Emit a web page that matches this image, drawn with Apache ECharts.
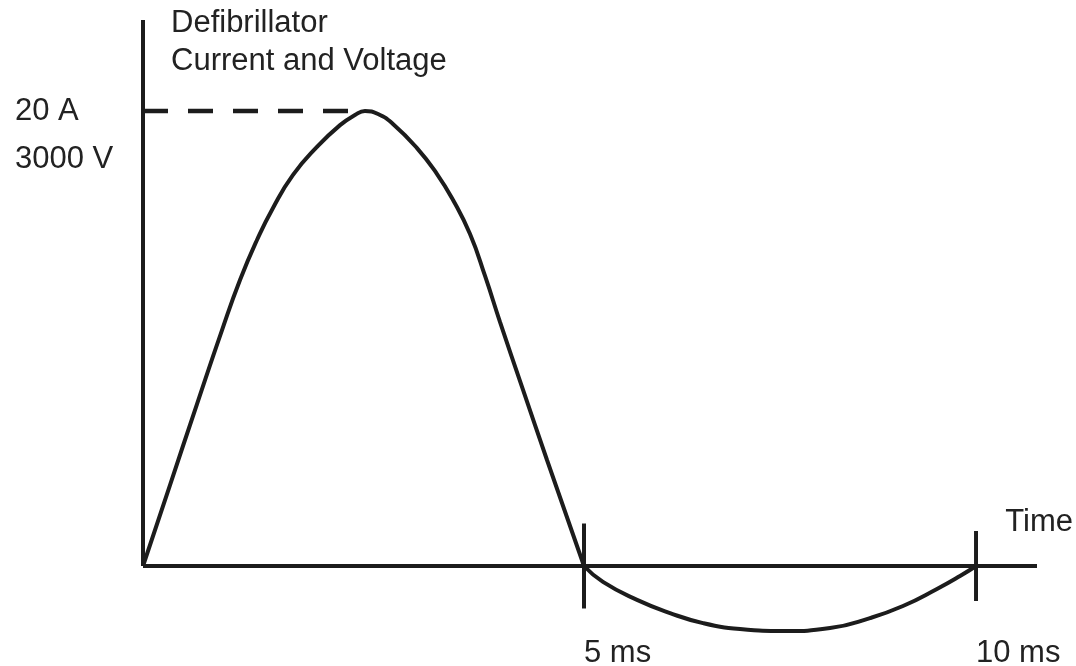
<!DOCTYPE html>
<html>
<head>
<meta charset="utf-8">
<title>Defibrillator Current and Voltage</title>
<script src="https://cdn.jsdelivr.net/npm/echarts@6/dist/echarts.min.js"></script>
<style>
  html, body { margin: 0; padding: 0; background: #ffffff; }
  #chart { width: 1076px; height: 666px; }
</style>
</head>
<body>
<div id="chart"></div>
<script>
// Schematic time position (0..100 along the time axis) and current in amperes.
// First (positive) lobe of the pulse
const pulseX = [0, 3.02, 6.04, 8.84, 10.85, 12.75, 14.54, 16.78, 19.46, 22.04, 23.71, 24.83,
  26.29, 27.96, 30.65, 32.89, 34.68, 36.58, 38.26, 39.93, 42.51, 45.19, 49.33];
const pulseY = [0, 3.56, 7.12, 10.37, 12.57, 14.33, 15.74, 17.19, 18.42, 19.38, 19.82, 20.0,
  19.87, 19.43, 18.37, 17.23, 16.09, 14.59, 12.75, 10.73, 7.74, 4.66, 0];
// Second (negative) lobe
const reverseX = [49.33, 51.45, 55.26, 58.95, 62.64, 66.78, 71.81, 76.85, 81.32, 85.01, 88.81, 91.39, 93.18];
const reverseY = [0, -0.70, -1.49, -2.07, -2.51, -2.77, -2.86, -2.73, -2.29, -1.76, -1.01, -0.44, 0];

// Time markers along the axis
const timeTicks = [49.33, 93.18];
const timeTickLabels = ['5 ms', '10 ms'];

// Peak level and its labels
const peakValue = 20;
const peakLabels = ['20 A', '3000 V'];
const peakX = 24.83;

const titleLines = ['Defibrillator', 'Current and Voltage'];
const timeAxisName = 'Time';

// ---- rendering ----
const INK = '#1c1c1c';
const TEXT = '#222222';
const FONT = '"Liberation Sans", Arial, Helvetica, sans-serif';
const FS = 31;
const tickMarkHeights = [85, 70];

function pairs(xs, ys) {
  return xs.map(function (x, i) { return [x, ys[i]]; });
}

const chart = echarts.init(document.getElementById('chart'), null, { renderer: 'canvas' });

chart.setOption({
  backgroundColor: '#ffffff',
  animation: false,
  title: {
    text: titleLines.join('\n'),
    left: 171,
    top: 4,
    padding: 0,
    textStyle: { fontFamily: FONT, fontSize: FS, fontWeight: 'normal', color: TEXT, lineHeight: 38 }
  },
  grid: {
    left: 143, right: 39, top: 20, bottom: 100,
    containLabel: false,
    outerBoundsMode: 'none'
  },
  xAxis: {
    type: 'value',
    min: 0,
    max: 100,
    name: timeAxisName,
    nameLocation: 'end',
    nameGap: 36,
    nameTextStyle: {
      fontFamily: FONT, fontSize: FS, color: TEXT,
      align: 'right', verticalAlign: 'bottom',
      lineHeight: 88
    },
    axisLine: { show: true, onZero: false, lineStyle: { color: INK, width: 4, cap: 'butt' } },
    axisTick: { show: false },
    splitLine: { show: false },
    axisLabel: {
      show: true,
      customValues: timeTicks,
      formatter: function (v) {
        const i = timeTicks.findIndex(function (t) { return Math.abs(t - v) < 1e-6; });
        return i >= 0 ? timeTickLabels[i] : '';
      },
      margin: 87,
      align: 'left',
      verticalAlign: 'middle',
      fontFamily: FONT, fontSize: FS, color: TEXT
    }
  },
  yAxis: {
    type: 'value',
    min: 0,
    max: 24,
    axisLine: { show: true, onZero: false, lineStyle: { color: INK, width: 4, cap: 'butt' } },
    axisTick: { show: false },
    splitLine: { show: false },
    axisLabel: {
      show: true,
      customValues: [peakValue],
      // the empty first line keeps the first label level with the peak
      formatter: function () { return '\n' + peakLabels.join('\n'); },
      margin: 128,
      align: 'left',
      verticalAlign: 'middle',
      lineHeight: 48,
      fontFamily: FONT, fontSize: FS, color: TEXT
    }
  },
  series: [
    {
      name: 'peak level',
      type: 'line',
      data: [[0, peakValue], [peakX, peakValue]],
      showSymbol: false,
      lineStyle: { color: INK, width: 4.5, type: [25, 20] },
      z: 2
    },
    {
      name: 'pulse',
      type: 'line',
      data: pairs(pulseX, pulseY),
      smooth: 0.5,
      showSymbol: false,
      clip: false,
      lineStyle: { color: INK, width: 4 },
      z: 3
    },
    {
      name: 'reverse',
      type: 'line',
      data: pairs(reverseX, reverseY),
      smooth: 0.5,
      showSymbol: false,
      clip: false,
      lineStyle: { color: INK, width: 4 },
      z: 3
    },
    {
      name: 'time ticks',
      type: 'scatter',
      clip: false,
      data: timeTicks.map(function (t, i) {
        return { value: [t, 0], symbolSize: [4, tickMarkHeights[i]] };
      }),
      symbol: 'rect',
      itemStyle: { color: INK, opacity: 1 },
      z: 4
    }
  ]
});
</script>
</body>
</html>
